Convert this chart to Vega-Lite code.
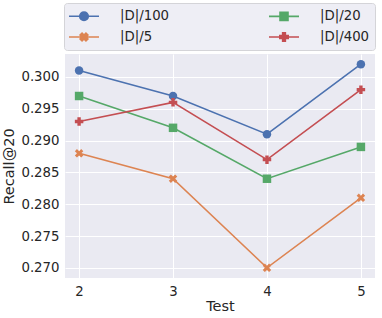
{
  "$schema": "https://vega.github.io/schema/vega-lite/v6.json",
  "width": 310,
  "height": 224,
  "autosize": {"type": "none"},
  "padding": {"left": 65, "top": 54, "right": 7, "bottom": 40},
  "background": "white",
  "data": {
    "values": [
      {"test": 2, "series": "|D|/100", "recall": 0.301},
      {"test": 3, "series": "|D|/100", "recall": 0.297},
      {"test": 4, "series": "|D|/100", "recall": 0.291},
      {"test": 5, "series": "|D|/100", "recall": 0.302},
      {"test": 2, "series": "|D|/5", "recall": 0.288},
      {"test": 3, "series": "|D|/5", "recall": 0.284},
      {"test": 4, "series": "|D|/5", "recall": 0.270},
      {"test": 5, "series": "|D|/5", "recall": 0.281},
      {"test": 2, "series": "|D|/20", "recall": 0.297},
      {"test": 3, "series": "|D|/20", "recall": 0.292},
      {"test": 4, "series": "|D|/20", "recall": 0.284},
      {"test": 5, "series": "|D|/20", "recall": 0.289},
      {"test": 2, "series": "|D|/400", "recall": 0.293},
      {"test": 3, "series": "|D|/400", "recall": 0.296},
      {"test": 4, "series": "|D|/400", "recall": 0.287},
      {"test": 5, "series": "|D|/400", "recall": 0.298}
    ]
  },
  "encoding": {
    "x": {
      "field": "test", "type": "quantitative", "title": "Test",
      "scale": {"domain": [1.85, 5.15], "nice": false, "zero": false},
      "axis": {"values": [2, 3, 4, 5], "format": "d", "labelPadding": 6, "titlePadding": 2}
    },
    "y": {
      "field": "recall", "type": "quantitative", "title": "Recall@20",
      "scale": {"domain": [0.2684, 0.3036], "nice": false, "zero": false},
      "axis": {"values": [0.27, 0.275, 0.28, 0.285, 0.29, 0.295, 0.3], "format": ".3f", "labelPadding": 6, "titlePadding": 4}
    }
  },
  "layer": [
    {
      "mark": {"type": "line", "strokeWidth": 1.6},
      "encoding": {
        "color": {
          "field": "series", "type": "nominal",
          "scale": {"domain": ["|D|/100", "|D|/5", "|D|/20", "|D|/400"], "range": ["#4C72B0", "#DD8452", "#55A868", "#C44E52"]},
          "legend": {
            "title": null,
            "orient": "none",
            "legendX": -1,
            "legendY": -51,
            "direction": "vertical",
            "columns": 2,
            "columnPadding": 95,
            "rowPadding": 5,
            "padding": 5,
            "symbolSize": 196,
            "symbolOffset": 7,
            "labelOffset": 28,
            "labelFont": "DejaVu Sans",
            "labelFontSize": 13.3,
            "labelColor": "#262626",
            "fillColor": "#EEEEF5",
            "strokeColor": "#D4D4D8",
            "cornerRadius": 3,
            "encode": {
              "symbols": {
                "update": {
                  "shape": {"signal": "datum.value === '|D|/100' ? 'M-2.143,0H2.143M-0.614,0A0.614,0.614,0,1,1,0.614,0A0.614,0.614,0,1,1,-0.614,0Z' : datum.value === '|D|/20' ? 'M-2.143,0H2.143M-0.571,-0.571H0.571V0.571H-0.571Z' : datum.value === '|D|/5' ? 'M-2.143,0H2.143M0,-0.279L0.279,-0.557L0.557,-0.279L0.279,0L0.557,0.279L0.279,0.557L0,0.279L-0.279,0.557L-0.557,0.279L-0.279,0L-0.557,-0.279L-0.279,-0.557Z' : 'M-2.143,0H2.143M-0.6,-0.193H-0.193V-0.6H0.193V-0.193H0.6V0.193H0.193V0.6H-0.193V0.193H-0.6Z'"},
                  "fill": {"scale": "color", "field": "value"},
                  "stroke": {"scale": "color", "field": "value"},
                  "strokeWidth": {"value": 1.6},
                  "opacity": {"value": 1}
                }
              }
            }
          }
        }
      }
    },
    {
      "mark": {"type": "point", "filled": true, "opacity": 1, "size": 72},
      "encoding": {
        "color": {"field": "series", "type": "nominal", "legend": null},
        "shape": {
          "field": "series", "type": "nominal",
          "scale": {
            "domain": ["|D|/100", "|D|/5", "|D|/20", "|D|/400"],
            "range": ["circle", "M0,-0.5L0.5,-1L1,-0.5L0.5,0L1,0.5L0.5,1L0,0.5L-0.5,1L-1,0.5L-0.5,0L-1,-0.5L-0.5,-1Z", "square", "cross"]
          },
          "legend": null
        }
      }
    }
  ],
  "resolve": {"legend": {"color": "independent", "shape": "independent"}},
  "config": {
    "view": {"fill": "#EAEAF2", "stroke": null},
    "axis": {
      "grid": true, "gridColor": "#FFFFFF", "gridWidth": 1, "gridOpacity": 1,
      "domain": false, "ticks": false,
      "labelFont": "DejaVu Sans", "labelFontSize": 13.3, "labelColor": "#262626",
      "titleFont": "DejaVu Sans", "titleFontSize": 14.5, "titleFontWeight": "normal", "titleColor": "#262626"
    }
  }
}
